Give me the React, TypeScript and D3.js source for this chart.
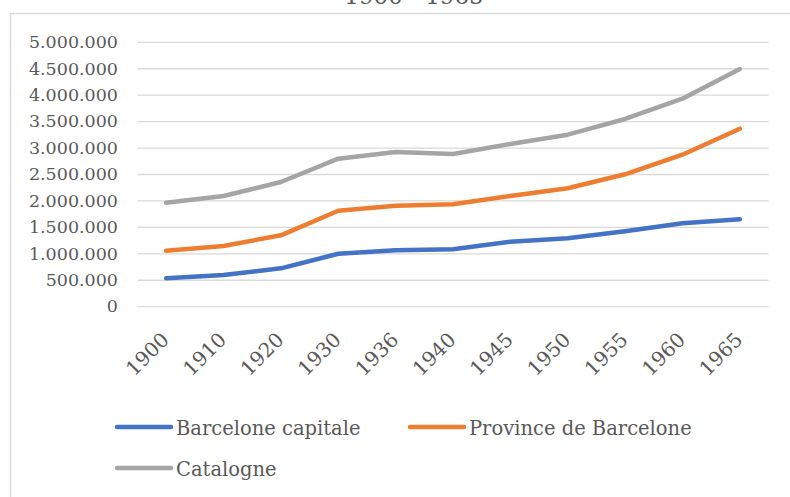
import React from "react";
import * as d3 from "d3";

const years = ["1900", "1910", "1920", "1930", "1936", "1940", "1945", "1950", "1955", "1960", "1965"];
const barceloneCapitale = [537000, 600000, 726000, 1002000, 1066000, 1085000, 1229000, 1293000, 1426000, 1577000, 1653000];
const provinceBarcelone = [1059000, 1148000, 1350000, 1815000, 1910000, 1936000, 2093000, 2239000, 2504000, 2874000, 3366000];
const catalogne = [1967000, 2093000, 2358000, 2799000, 2926000, 2888000, 3077000, 3253000, 3550000, 3934000, 4495000];
const seriesNames = ["Barcelone capitale", "Province de Barcelone", "Catalogne"];
const seriesColors = ["#4472C4", "#ED7D31", "#A5A5A5"];
const yTicks = [0, 500000, 1000000, 1500000, 2000000, 2500000, 3000000, 3500000, 4000000, 4500000, 5000000];
const title = "1900 - 1965";

const W = 790, H = 497;
const FONT = "'DejaVu Serif', serif";
const TXT = "#595959";

function fmt(v: number) {
  return v === 0 ? "0" : d3.format(",")(v).replace(/,/g, ".");
}

export default function App() {
  const x = d3.scaleBand<string>().domain(years).range([137.5, 768.5]);
  const y = d3.scaleLinear().domain([0, 5000000]).range([306.7, 42.3]);
  const all = [barceloneCapitale, provinceBarcelone, catalogne];
  const line = d3
    .line<number>()
    .x((_, i) => (x(years[i]) as number) + x.bandwidth() / 2)
    .y((d) => y(d));

  const legendItems = [
    { x: 117, y: 427 },
    { x: 410, y: 427 },
    { x: 117, y: 468 },
  ];

  return (
    <svg width={W} height={H} style={{ position: "absolute", left: 0, top: 0, background: "#fff" }} fontFamily={FONT}>
      <rect x={10.5} y={13.5} width={800} height={500} fill="none" stroke="#d9d9d9" strokeWidth={1.5} />
      <text x={414} y={4} textAnchor="middle" fontSize={23} fill={TXT}>{title}</text>
      {yTicks.map((t) => (
        <g key={t}>
          <line x1={137.5} x2={768.5} y1={y(t)} y2={y(t)} stroke="#d9d9d9" strokeWidth={1.3} />
          <text x={118} y={y(t)} dy="0.33em" textAnchor="end" fontSize={17.5} fill={TXT}>{fmt(t)}</text>
        </g>
      ))}
      {years.map((yr) => {
        const cx = (x(yr) as number) + x.bandwidth() / 2;
        return (
          <text key={yr} transform={`translate(${cx + 4},${341}) rotate(-45)`} textAnchor="end" fontSize={20} fill={TXT}>
            {yr}
          </text>
        );
      })}
      {all.map((s, i) => (
        <path key={i} d={line(s) || ""} fill="none" stroke={seriesColors[i]} strokeWidth={4.5} strokeLinecap="round" strokeLinejoin="round" />
      ))}
      {seriesNames.map((n, i) => (
        <g key={n}>
          <line x1={legendItems[i].x} x2={legendItems[i].x + 54} y1={legendItems[i].y} y2={legendItems[i].y} stroke={seriesColors[i]} strokeWidth={4.5} strokeLinecap="round" />
          <text x={legendItems[i].x + 59} y={legendItems[i].y + 7.5} fontSize={19.5} fill={TXT}>{n}</text>
        </g>
      ))}
    </svg>
  );
}
